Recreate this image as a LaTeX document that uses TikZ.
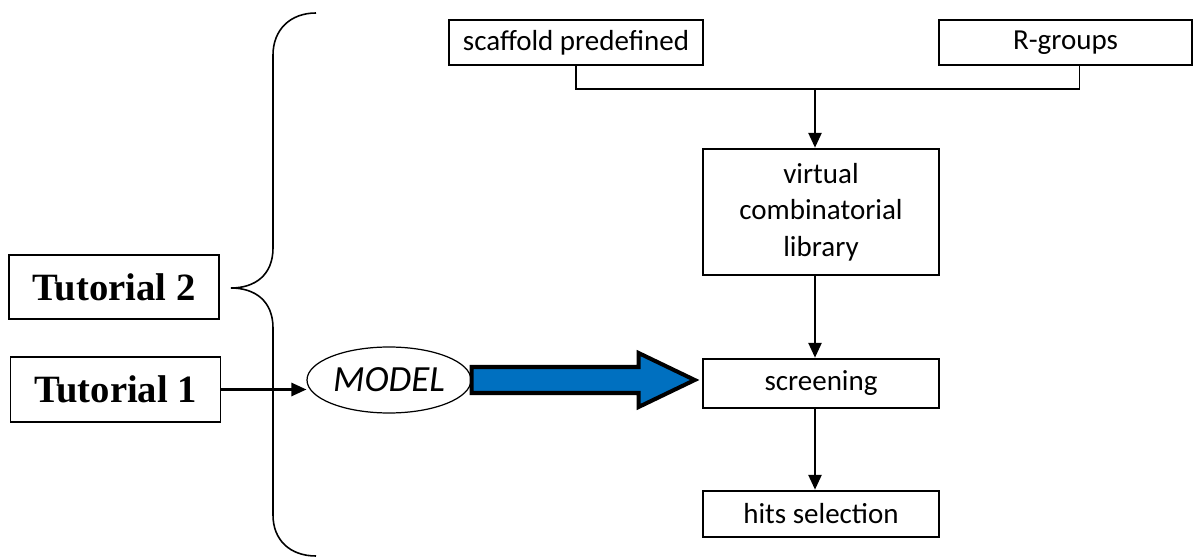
\documentclass[tikz,border=0pt]{standalone}
\usepackage{fontspec}
\setmainfont{Carlito}
\newfontfamily\tutfont{Liberation Serif}
\usetikzlibrary{positioning}
\usetikzlibrary{arrows.meta,calc,shapes.geometric}
\definecolor{modelblue}{HTML}{0070C0}

\begin{document}
\begin{tikzpicture}[x=0.02cm,y=-0.02cm]
\tikzset{box/.style={draw, line width=1.5pt, inner sep=0pt, minimum width=4.72cm, align=center,
    font=\fontsize{16.5}{20.8}\selectfont},
  tutbox/.style={draw, line width=1pt, inner sep=0pt, minimum width=4.2cm, minimum height=1.29cm,
    font=\fontsize{22}{24}\selectfont\tutfont\bfseries},
  arr/.style={line width=1.2pt, -{Triangle[length=8.5pt,width=7.5pt]}},
  bigarrow/.style={draw, line width=2.3pt, fill=modelblue, line join=miter}}
\useasboundingbox (0,0) rectangle (1193,560);
\node[box, minimum width=5.08cm, minimum height=0.9cm] at (576,42.5) (scaffold) {scaffold predefined};
\node[box, minimum width=5.06cm, minimum height=0.9cm] at (1065.5,42.5) (rgroups) {R-groups};
\node[box, minimum height=2.52cm] at (821,212) (virtual) {virtual\\combinatorial\\library};
\node[box, minimum height=0.98cm] at (821,383.5) (screening) {screening};
\node[box, minimum height=0.92cm] at (821,514) (hits) {hits selection};
\node[tutbox] at (114,287) (tut2) {Tutorial 2};
\node[tutbox] at (115.5,389.5) (tut1) {Tutorial 1};
\node[draw, ellipse, line width=0.7pt, inner sep=0pt, minimum width=3.28cm, minimum height=1.32cm,
  font=\fontsize{21}{24}\selectfont\itshape] at (389,380) (model) {MODEL};
\coordinate (mid) at (815,89);
% joining the two inputs
\draw[line width=0.9pt] (scaffold.south) |- (mid) -| ([xshift=0.28cm]rgroups.south);
\draw[arr] (mid) -- (mid |- virtual.north);
\foreach \a/\b in {virtual/screening, screening/hits}
  \draw[arr] (mid |- \a.south) -- (mid |- \b.north);
\draw[arr] (tut1.east) -- (tut1.east -| model.west);
% blue arrow
\path[bigarrow] ($(model.east)+(0,-13)$) -- ++(167,0) -- ++(0,-14) -- ($(screening.west)+(-7,-3.5)$)
  -- ($(model.east)+(167,27)$) -- ++(0,-14) -- ($(model.east)+(0,13)$) -- cycle;
% brace
\draw[line width=0.9pt] (316,13) .. controls (290,13) and (273,30) .. (273,55) -- (273,248)
  .. controls (273,275) and (255,288) .. (231,288)
  .. controls (255,288) and (273,301) .. (273,328) -- (273,515)
  .. controls (273,540) and (290,556) .. (316,556);
\end{tikzpicture}
\end{document}
